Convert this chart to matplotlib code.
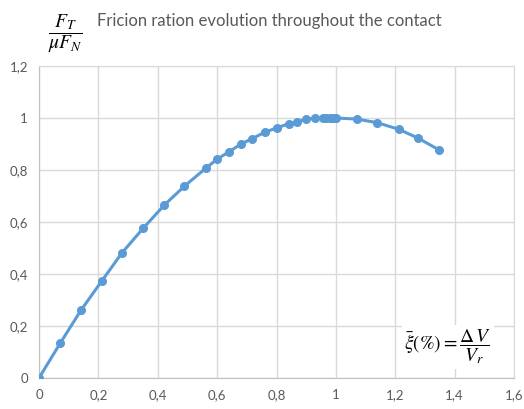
import matplotlib
matplotlib.use("Agg")
import matplotlib.pyplot as plt
from matplotlib.ticker import FuncFormatter

plt.rcParams['mathtext.fontset'] = 'stix'

# slip ratio vs normalised friction force
slip = [0.0, 0.071, 0.141, 0.212, 0.280, 0.351, 0.421, 0.490, 0.561, 0.600,
        0.640, 0.679, 0.719, 0.760, 0.801, 0.841, 0.870, 0.901, 0.929, 0.957,
        0.968, 0.979, 0.990, 1.0, 1.070, 1.139, 1.211, 1.278, 1.348]
ratio = [0.0, 0.133, 0.260, 0.374, 0.482, 0.576, 0.664, 0.738, 0.806, 0.842,
         0.870, 0.899, 0.921, 0.945, 0.962, 0.978, 0.986, 0.995, 0.999, 1.0,
         1.0, 1.0, 1.0, 1.0, 0.996, 0.982, 0.957, 0.922, 0.877]

xticks = [0, 0.2, 0.4, 0.6, 0.8, 1.0, 1.2, 1.4, 1.6]
yticks = [0, 0.2, 0.4, 0.6, 0.8, 1.0, 1.2]

blue = '#5B9BD5'
grey = '#595959'

fig = plt.figure(figsize=(5.24, 4.09), dpi=100)
ax = fig.add_axes([39 / 524, 1 - 378 / 409, 475 / 524, 312 / 409])

ax.plot(slip, ratio, color=blue, lw=2.2, marker='o', ms=5.5,
        markeredgecolor=blue, zorder=3)

ax.set_xlim(0, 1.6)
ax.set_ylim(0, 1.2)
ax.set_xticks(xticks)
ax.set_yticks(yticks)

comma = FuncFormatter(lambda v, p: f'{v:g}'.replace('.', ','))
ax.xaxis.set_major_formatter(comma)
ax.yaxis.set_major_formatter(comma)
ax.tick_params(length=0, colors=grey, labelsize=9.5, pad=8)
for lab in ax.get_xticklabels() + ax.get_yticklabels():
    lab.set_family('Lato')

ax.grid(True, color='#d9d9d9', lw=1)
ax.set_axisbelow(True)
for side in ['top', 'right']:
    ax.spines[side].set_color('#d9d9d9')
for side in ['left', 'bottom']:
    ax.spines[side].set_color('#bfbfbf')

fig.text(65 / 524, 1 - 34 / 409, r'$\dfrac{F_T}{\mu F_N}$', fontsize=14,
         ha='center', va='center')
fig.text(97 / 524, 1 - 21 / 409, 'Fricion ration evolution throughout the contact',
         fontsize=12, color=grey, family='Lato', ha='left', va='center')

ax.text(1.525, 0.119, r'$\bar{\xi}(\mathrm{\%}) = \dfrac{\Delta\,V}{V_r}$', fontsize=14,
        ha='right', va='center',
        bbox=dict(facecolor='white', edgecolor='none', pad=2))

fig.savefig('out.png', dpi=100)
